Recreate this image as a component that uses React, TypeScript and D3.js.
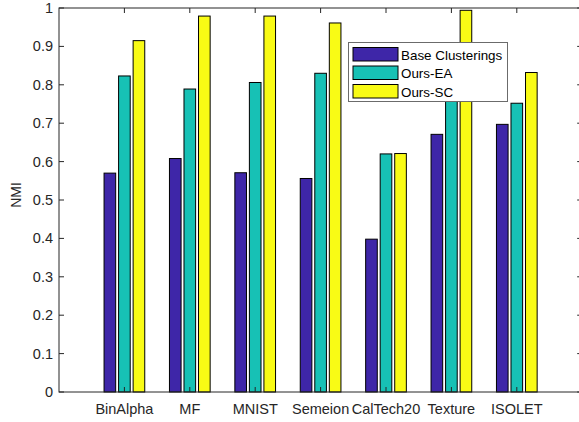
import * as d3 from 'd3';
import React from 'react';

const categories = ['BinAlpha', 'MF', 'MNIST', 'Semeion', 'CalTech20', 'Texture', 'ISOLET'];
const seriesNames = ['Base Clusterings', 'Ours-EA', 'Ours-SC'];
const baseClusterings = [0.57, 0.608, 0.571, 0.556, 0.398, 0.671, 0.697];
const oursEA = [0.823, 0.789, 0.806, 0.83, 0.62, 0.78, 0.752];
const oursSC = [0.915, 0.979, 0.979, 0.961, 0.621, 0.994, 0.832];
const yTicks = [0, 0.1, 0.2, 0.3, 0.4, 0.5, 0.6, 0.7, 0.8, 0.9, 1];

const colors = ['#3e26a8', '#17c1b5', '#f9fb15'];
const axisColor = '#262626';
const font = 'Liberation Sans, Arial, sans-serif';

const width = 579;
const height = 422;
const left = 59;
const top = 8;
const bottom = 392;

export default function App() {
    const series = [baseClusterings, oursEA, oursSC];

    // MATLAB style: categories sit at 1..n on a 0..n+1 axis
    const x = d3.scaleLinear([0, categories.length + 1], [left, left + 65.4 * (categories.length + 1)]);
    const y = d3.scaleLinear([0, 1], [bottom, top]);

    const groupWidth = 3 / (3 + 1.5);
    const slot = groupWidth / series.length;
    const barW = slot * 0.8;
    const right = x(categories.length + 1);

    return (
        <svg width={width} height={height} style={{ position: 'absolute', left: 0, top: 0, background: '#fff' }}
            fontFamily={font}>
            {series.map((vals, s) => vals.map((v, i) => {
                const cx = x(i + 1 + (s - 1) * slot);
                const w = x(barW) - x(0);
                return <rect key={s + '-' + i} x={cx - w / 2} y={y(v)} width={w} height={y(0) - y(v)}
                    fill={colors[s]} stroke="#000" strokeWidth={1} />;
            }))}

            {/* box */}
            <rect x={left} y={top} width={right - left} height={bottom - top} fill="none" stroke={axisColor} strokeWidth={1} />

            {/* y ticks both sides */}
            {yTicks.map(t => (
                <g key={t}>
                    <line x1={left} x2={left + 5} y1={y(t)} y2={y(t)} stroke={axisColor} />
                    <line x1={right} x2={right - 5} y1={y(t)} y2={y(t)} stroke={axisColor} />
                    <text x={53} y={y(t) + 5} textAnchor="end" fontSize={14.5} fill={axisColor}>{t}</text>
                </g>
            ))}

            {/* x ticks top and bottom */}
            {categories.map((c, i) => (
                <g key={c}>
                    <line x1={x(i + 1)} x2={x(i + 1)} y1={bottom} y2={bottom - 5} stroke={axisColor} />
                    <line x1={x(i + 1)} x2={x(i + 1)} y1={top} y2={top + 5} stroke={axisColor} />
                    <text x={x(i + 1)} y={414} textAnchor="middle" fontSize={14.5} fill={axisColor}>{c}</text>
                </g>
            ))}

            <text transform={`translate(21,195) rotate(-90)`} textAnchor="middle" fontSize={14}
                fill={axisColor}>NMI</text>

            {/* legend */}
            <g transform="translate(348.5,42.5)">
                <rect width={159} height={59} fill="#fff" stroke="#6b6b6b" strokeWidth={1} />
                {seriesNames.map((n, s) => (
                    <g key={n} transform={`translate(4.5,${5 + s * 18.5})`}>
                        <rect width={45} height={13.5} fill={colors[s]} stroke="#000" strokeWidth={1} />
                        <text x={48} y={12} fontSize={13.4} fill="#000">{n}</text>
                    </g>
                ))}
            </g>
        </svg>
    );
}
